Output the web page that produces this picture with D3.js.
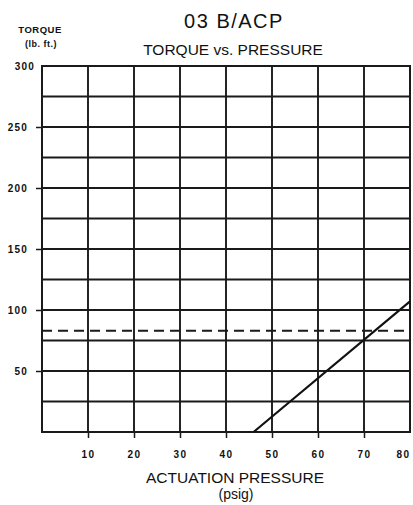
<!DOCTYPE html>
<html>
<head>
<meta charset="utf-8">
<script src="https://cdn.jsdelivr.net/npm/d3@7"></script>
<style>
  body { margin: 0; background: #fff; }
  text { font-family: "Liberation Sans", Arial, sans-serif; fill: #111; }
</style>
</head>
<body>
<svg id="chart" width="413" height="505"></svg>
<script>
// values
var xTicks = [10, 20, 30, 40, 50, 60, 70, 80];
var yTicks = [50, 100, 150, 200, 250, 300];
var xGrid = [10, 20, 30, 40, 50, 60, 70];
var yGrid = [25, 50, 75, 100, 125, 150, 175, 200, 225, 250, 275];
var pressure = [46, 80];
var torque = [0, 107];
var limitTorque = 83;

var svg = d3.select("#chart"),
    margin = {top: 66, right: 3, bottom: 73, left: 42},
    width = 413 - margin.left - margin.right,
    height = 505 - margin.top - margin.bottom;

var x = d3.scaleLinear().domain([0, 80]).range([0, width]),
    y = d3.scaleLinear().domain([0, 300]).range([height, 0]);

var g = svg.append("g")
    .attr("transform", "translate(" + margin.left + "," + margin.top + ")");

// grid
g.selectAll(".hgrid").data(yGrid)
  .enter().append("line")
    .attr("x1", 0).attr("x2", width)
    .attr("y1", function(d) { return y(d); })
    .attr("y2", function(d) { return y(d); })
    .attr("stroke", "#1a1a1a").attr("stroke-width", 1.9);

g.selectAll(".vgrid").data(xGrid)
  .enter().append("line")
    .attr("y1", 0).attr("y2", height)
    .attr("x1", function(d) { return x(d); })
    .attr("x2", function(d) { return x(d); })
    .attr("stroke", "#1a1a1a").attr("stroke-width", 1.9);

// frame
g.append("rect")
    .attr("width", width).attr("height", height)
    .attr("fill", "none").attr("stroke", "#1a1a1a").attr("stroke-width", 2);

// axes (ticks outside the frame, bold labels)
var yAxis = g.append("g")
    .call(d3.axisLeft(y).tickValues(yTicks).tickSize(6).tickPadding(8));
yAxis.select(".domain").remove();
yAxis.selectAll("line").attr("stroke", "#1a1a1a").attr("stroke-width", 1.5)
    .filter(function(d) { return d === 300; }).remove();
yAxis.selectAll("text")
    .style("font-size", "10px").style("font-weight", "bold")
    .style("letter-spacing", "1.2px")
    .style("font-family", "'Liberation Sans', Arial, sans-serif")
    .attr("fill", "#111")
    .filter(function(d) { return d === 300; }).attr("x", -7);

var xAxis = g.append("g")
    .attr("transform", "translate(0," + height + ")")
    .call(d3.axisBottom(x).tickValues(xTicks).tickSize(6).tickPadding(13));
xAxis.select(".domain").remove();
xAxis.selectAll("line").attr("stroke", "#1a1a1a").attr("stroke-width", 1.5)
    .filter(function(d) { return d === 80; }).remove();
xAxis.selectAll("text")
    .style("font-size", "10px").style("font-weight", "bold")
    .style("letter-spacing", "1.5px")
    .style("font-family", "'Liberation Sans', Arial, sans-serif")
    .attr("fill", "#111")
    .filter(function(d) { return d === 80; }).attr("x", -7);

// dashed limit line
g.append("line")
    .attr("x1", x(0)).attr("x2", x(80))
    .attr("y1", y(limitTorque)).attr("y2", y(limitTorque))
    .attr("stroke", "#1a1a1a").attr("stroke-width", 2)
    .attr("stroke-dasharray", "10,6");

// torque line
var line = d3.line()
    .x(function(d, i) { return x(pressure[i]); })
    .y(function(d) { return y(d); });

g.append("path")
    .datum(torque)
    .attr("d", line)
    .attr("fill", "none").attr("stroke", "#111").attr("stroke-width", 2.2);

// titles
svg.append("text").attr("x", 234).attr("y", 28)
    .attr("text-anchor", "middle")
    .style("font-size", "20px").style("letter-spacing", "1.5px")
    .text("03 B/ACP");
svg.append("text").attr("x", 233).attr("y", 55)
    .attr("text-anchor", "middle")
    .style("font-size", "15.5px")
    .text("TORQUE vs. PRESSURE");
svg.append("text").attr("x", 40).attr("y", 33)
    .attr("text-anchor", "middle")
    .style("font-size", "9.5px").style("font-weight", "bold")
    .style("letter-spacing", "0.5px")
    .text("TORQUE");
svg.append("text").attr("x", 41).attr("y", 47)
    .attr("text-anchor", "middle")
    .style("font-size", "9px").style("font-weight", "bold")
    .style("letter-spacing", "0.5px")
    .text("(lb. ft.)");
svg.append("text").attr("x", 235).attr("y", 483)
    .attr("text-anchor", "middle")
    .style("font-size", "15.5px")
    .text("ACTUATION PRESSURE");
svg.append("text").attr("x", 236).attr("y", 499)
    .attr("text-anchor", "middle")
    .style("font-size", "14px")
    .text("(psig)");
</script>
</body>
</html>
